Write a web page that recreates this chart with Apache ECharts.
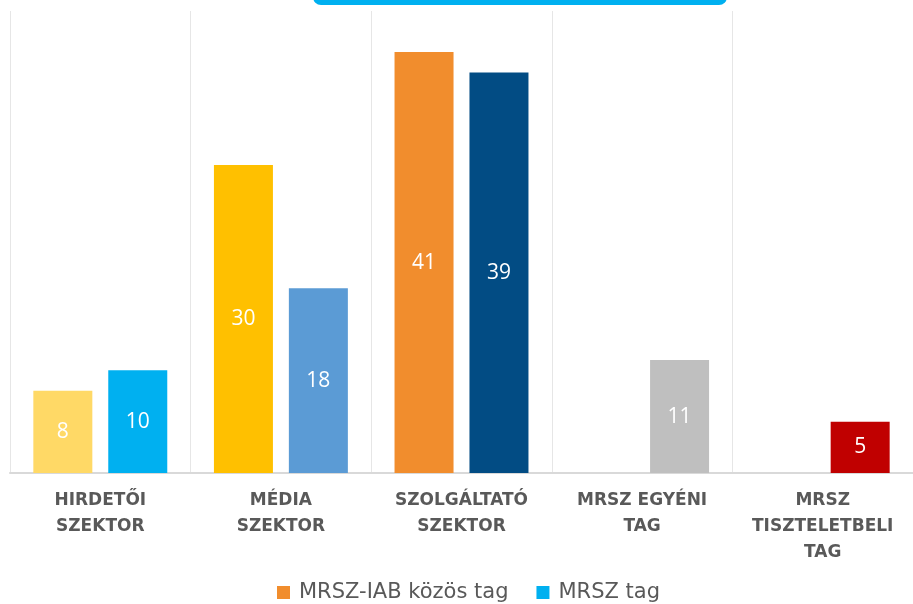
<!DOCTYPE html>
<html>
<head>
<meta charset="utf-8">
<script src="https://cdn.jsdelivr.net/npm/echarts@6/dist/echarts.min.js"></script>
<style>
  html, body { margin: 0; padding: 0; background: #fff; }
  #chart { width: 913px; height: 604px; }
</style>
</head>
<body>
<div id="chart"></div>
<script>
// categories and values
var categories = ['HIRDETŐI\nSZEKTOR', 'MÉDIA\nSZEKTOR', 'SZOLGÁLTATÓ\nSZEKTOR', 'MRSZ EGYÉNI\nTAG', 'MRSZ\nTISZTELETBELI\nTAG'];
var seriesNames = ['MRSZ-IAB közös tag', 'MRSZ tag'];
var kozosValues = [8, 30, 41, null, null];
var mrszValues = [10, 18, 39, 11, 5];

// per-category bar colours
var kozosColors = ['#FFD966', '#FFC000', '#F18D2D', '#F18D2D', '#F18D2D'];
var mrszColors = ['#00B0F0', '#5B9BD5', '#024C84', '#BFBFBF', '#C00000'];

function toItems(values, colors) {
    return values.map(function (v, i) {
        return { value: v, itemStyle: { color: colors[i] } };
    });
}

var chartDom = document.getElementById('chart');
var myChart = echarts.init(chartDom);

var barLabel = {
    show: true,
    position: 'inside',
    color: '#fff',
    fontFamily: 'Open Sans',
    fontSize: 21
};

var option = {
    animation: false,
    graphic: [{
        // cut-off title box at the top edge
        type: 'rect',
        shape: { x: 313, y: -20, width: 414, height: 25, r: 8 },
        style: { fill: '#00B0F0' }
    }],
    legend: {
        left: 272,
        top: 577,
        itemWidth: 13,
        itemHeight: 13,
        itemGap: 28,
        icon: 'rect',
        textStyle: { fontFamily: 'DejaVu Sans', fontSize: 21, color: '#595959', padding: [0, 0, 0, 4] },
        data: seriesNames
    },
    grid: { left: 10, top: 11, width: 909, height: 462 },
    xAxis: {
        type: 'category',
        data: categories,
        axisTick: { show: false },
        axisLine: { lineStyle: { color: '#D9D9D9', width: 2 } },
        splitLine: { show: true, lineStyle: { color: '#E6E6E6', width: 1 } },
        axisLabel: {
            margin: 15,
            interval: 0,
            fontFamily: 'DejaVu Sans',
            fontWeight: 'bold',
            fontSize: 17,
            lineHeight: 26,
            color: '#595959'
        }
    },
    yAxis: {
        type: 'value',
        min: 0,
        max: 45,
        show: false,
        splitLine: { show: false }
    },
    series: [{
        name: seriesNames[0],
        type: 'bar',
        barWidth: 59,
        barGap: '27%',
        itemStyle: { color: '#F18D2D' },
        label: barLabel,
        data: toItems(kozosValues, kozosColors)
    }, {
        name: seriesNames[1],
        type: 'bar',
        barWidth: 59,
        itemStyle: { color: '#00B0F0' },
        label: barLabel,
        data: toItems(mrszValues, mrszColors)
    }]
};

option && myChart.setOption(option);
</script>
</body>
</html>
